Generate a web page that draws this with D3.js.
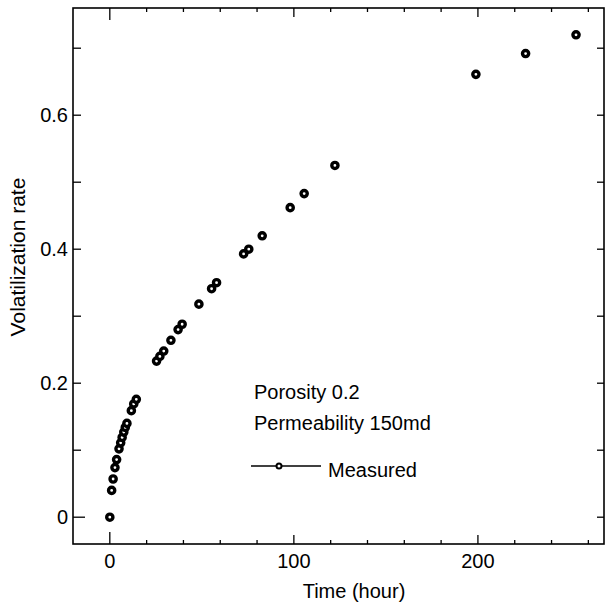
<!DOCTYPE html>
<html>
<head>
<meta charset="utf-8">
<script src="https://cdn.jsdelivr.net/npm/d3@7"></script>
<style>
  html, body { margin: 0; padding: 0; background: #fff; }
  svg text { font-family: "Liberation Sans", Arial, sans-serif; fill: #000; }
</style>
</head>
<body>
<svg id="chart" width="607" height="608"></svg>
<script>
// Data
const timeHours = [0, 1.0, 1.8, 2.8, 3.7, 5.0, 5.9, 6.7, 7.6, 8.4, 9.3, 11.7, 13.0, 14.4,
  25.4, 27.2, 29.3, 33.2, 37.1, 39.3, 48.4, 55.3, 58.0, 72.7, 75.5, 82.8, 98.0, 105.6,
  122.3, 198.9, 225.9, 253.3];
const volatilization = [0, 0.040, 0.057, 0.074, 0.086, 0.102, 0.111, 0.119, 0.127, 0.134, 0.140, 0.159, 0.169, 0.176,
  0.233, 0.240, 0.248, 0.264, 0.280, 0.288, 0.318, 0.341, 0.350, 0.393, 0.400, 0.420, 0.462, 0.483,
  0.525, 0.661, 0.692, 0.720];
const xMajorTicks = [0, 100, 200];
const xMinorTicks = [-20, 20, 40, 60, 80, 120, 140, 160, 180, 220, 240, 260];
const yMajorTicks = [0, 0.2, 0.4, 0.6];
const yMinorTicks = [0.1, 0.3, 0.5, 0.7];
const xTitle = "Time (hour)";
const yTitle = "Volatilization rate";
const legendLines = ["Porosity 0.2", "Permeability 150md"];
const seriesName = "Measured";

const points = timeHours.map((t, i) => ({ t, v: volatilization[i] }));

const svg = d3.select("#chart");
const pLeft = 73, pRight = 604, pTop = 8, pBottom = 544;

const x = d3.scaleLinear().domain([-20, 268.5]).range([pLeft, pRight]);
const y = d3.scaleLinear().domain([-0.04, 0.76]).range([pBottom, pTop]);

// Frame
svg.append("rect")
  .attr("x", pLeft).attr("y", pTop)
  .attr("width", pRight - pLeft).attr("height", pBottom - pTop)
  .attr("fill", "none").attr("stroke", "#000").attr("stroke-width", 1.6);

const g = svg.append("g").attr("stroke", "#000").attr("stroke-width", 1.3);

// Bottom & top ticks (inward)
const xAll = xMajorTicks.map(v => ({ v, major: true })).concat(xMinorTicks.map(v => ({ v, major: false })));
xAll.forEach(d => {
  const len = d.v === 0 ? 12 : (d.major ? 9 : 4);
  const px = x(d.v);
  if (px <= pLeft + 1 || px >= pRight - 1) return;
  g.append("line").attr("x1", px).attr("x2", px).attr("y1", pBottom).attr("y2", pBottom - len);
  g.append("line").attr("x1", px).attr("x2", px).attr("y1", pTop).attr("y2", pTop + len);
});

// Left & right ticks
const yAll = yMajorTicks.map(v => ({ v, major: true })).concat(yMinorTicks.map(v => ({ v, major: false })));
yAll.forEach(d => {
  const py = y(d.v);
  const len = d.v === 0 ? 12 : 8;
  g.append("line").attr("x1", pLeft).attr("x2", pLeft + len).attr("y1", py).attr("y2", py);
  g.append("line").attr("x1", pRight).attr("x2", pRight - 7).attr("y1", py).attr("y2", py);
});

// Tick labels
svg.append("g").selectAll("text").data(xMajorTicks).join("text")
  .attr("x", d => x(d)).attr("y", 568)
  .attr("text-anchor", "middle").attr("font-size", 20)
  .text(d => d3.format("d")(d));

svg.append("g").selectAll("text").data(yMajorTicks).join("text")
  .attr("x", 68).attr("y", d => y(d))
  .attr("dy", "0.35em")
  .attr("text-anchor", "end").attr("font-size", 20)
  .text(d => d === 0 ? "0" : d3.format(".1f")(d));

// Axis titles
svg.append("text")
  .attr("x", 354).attr("y", 598)
  .attr("text-anchor", "middle").attr("font-size", 20)
  .text(xTitle);

svg.append("text")
  .attr("transform", "translate(25,257) rotate(-90)")
  .attr("text-anchor", "middle").attr("font-size", 21)
  .text(yTitle);

// Points
svg.append("g").selectAll("circle").data(points).join("circle")
  .attr("cx", d => x(d.t)).attr("cy", d => y(d.v))
  .attr("r", 3.1)
  .attr("fill", "#fff").attr("stroke", "#000").attr("stroke-width", 3.4);

// Legend / annotation
svg.append("g").selectAll("text").data(legendLines).join("text")
  .attr("x", 254).attr("y", (d, i) => 399 + i * 31)
  .attr("font-size", 20)
  .text(d => d);

svg.append("line")
  .attr("x1", 251).attr("x2", 321).attr("y1", 466).attr("y2", 466)
  .attr("stroke", "#000").attr("stroke-width", 1.3);
svg.append("circle")
  .attr("cx", 279).attr("cy", 466).attr("r", 2.5)
  .attr("fill", "#fff").attr("stroke", "#000").attr("stroke-width", 2);
svg.append("text")
  .attr("x", 328).attr("y", 477)
  .attr("font-size", 20)
  .text(seriesName);
</script>
</body>
</html>
